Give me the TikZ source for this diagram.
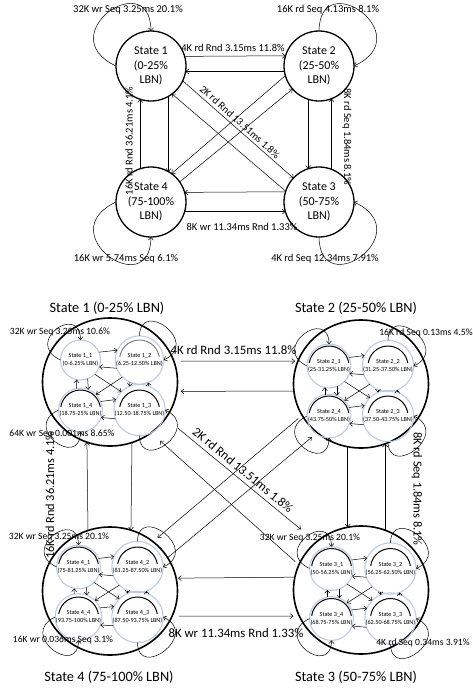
\documentclass[tikz,border=0pt]{standalone}
\usepackage{fontspec}
\setmainfont{Carlito}
\usetikzlibrary{arrows.meta,shapes.geometric}
\definecolor{smallblue}{RGB}{188,203,226}
\newcommand{\fs}[2]{\fontsize{#1}{#2}\selectfont}
\newcommand{\toparc}[2]{%
 \begin{scope}
 \clip ([xshift=-23pt,yshift=3.5pt]#1.center) rectangle ([xshift=23pt,yshift=24pt]#1.center);
 \draw[#2, line width=1pt] (#1.center) circle[radius=20pt];
 \end{scope}}
\newcommand{\subgrp}[7]{%
 \node[sm] (s#1a) at ({#2-29.5},{#3-25}) {State #1\_1\\(#4)};
 \node[sm] (s#1b) at ({#2+29.5},{#3-25}) {State #1\_2\\(#5)};
 \node[sm] (s#1c) at ({#2+29.5},{#3+25}) {State #1\_3\\(#6)};
 \node[sm] (s#1d) at ({#2-29.5},{#3+25}) {State #1\_4\\(#7)};
 \draw[arr] (s#1a.23.6) -- (s#1b.156.4);
 \draw[arr] (s#1b.200.5) -- (s#1a.-20.5);
 \draw[arr] (s#1d.23.6) -- (s#1c.156.4);
 \draw[arr] (s#1c.200.5) -- (s#1d.-20.5);
 \draw[arr] (s#1d.101.5) -- (s#1a.-101.5);
 \draw[arr] (s#1a.-69.5) -- (s#1d.69.5);
 \draw[arr] (s#1b.-113.6) -- (s#1c.113.6);
 \draw[arr] (s#1c.69.5) -- (s#1b.-69.5);
 \draw[arr] (s#1a.-45) -- (s#1c.135);
 \draw[arr] (s#1b.-135) -- (s#1d.45);
 \draw[arr] (s#1a.180) .. controls +(-37.7,-17.7) and +(-0.6,-37.7) .. (s#1a.90);
 \draw[arr] (s#1b.90) .. controls +(0.6,-37.7) and +(37.7,-17.7) .. (s#1b.0);
 \draw[arr] (s#1d.180) .. controls +(-37.7,17.7) and +(-0.6,37.7) .. (s#1d.270);
 \draw[arr] (s#1c.270) .. controls +(0.6,37.7) and +(37.7,17.7) .. (s#1c.0);
}
\begin{document}
\begin{tikzpicture}[x=1pt,y=-1pt,
 arr/.style={-{Straight Barb[length=2.8pt,width=5pt]}, line width=0.5pt},
 st/.style={circle, draw, line width=1.3pt, minimum size=70pt, inner sep=0pt, outer sep=0pt, align=center, font=\fs{12}{14.5}},
 big/.style={ellipse, draw, line width=1.6pt, minimum width=135pt, minimum height=128pt, inner sep=0pt, outer sep=0pt},
 sm/.style={circle, draw=smallblue, line width=1.1pt, minimum size=40pt, inner sep=0pt, outer sep=0pt, align=center, font=\fs{6.2}{8}},
 lbl/.style={font=\fs{10.5}{12}, inner sep=0pt},
 lblb/.style={font=\fs{12.8}{14}, inner sep=0pt},
 lblv/.style={font=\fs{12.3}{14}, inner sep=0pt},
 lps/.style={font=\fs{9.6}{11}, inner sep=0pt},
 ttl/.style={font=\fs{14.3}{16}, inner sep=0pt},
]
\useasboundingbox (0,0) rectangle (472,689);
% ---------- top diagram ----------
\node[st] (s1) at (151,66) {State 1\\(0-25\%\\LBN)};
\node[st] (s2) at (319,66) {State 2\\(25-50\%\\LBN)};
\node[st] (s4) at (151,202) {State 4\\(75-100\%\\LBN)};
\node[st] (s3) at (319,202) {State 3\\(50-75\%\\LBN)};
\draw[arr] (s1.16.6) -- (s2.163.4);
\draw[arr] (s2.189.9) -- (s1.-9.9);
\draw[arr] (s3.163.4) -- (s4.16.6);
\draw[arr] (s4.-16.6) -- (s3.196.6);
\draw[arr] (s4.108.3) -- (s1.-108.3);
\draw[arr] (s1.-60.9) -- (s4.60.9);
\draw[arr] (s2.-108.3) -- (s3.108.3);
\draw[arr] (s3.69.9) -- (s2.-69.9);
\draw[arr] (s1.-25) -- (s3.137);
\draw[arr] (s3.162) -- (s1.-53);
\draw[arr] (s2.196) -- (s4.54);
\draw[arr] (s4.35) -- (s2.221);
\draw[arr] (s1.180) .. controls +(-66,-31) and +(-1,-66) .. (s1.90);
\draw[arr] (s2.90) .. controls +(1,-66) and +(66,-31) .. (s2.0);
\draw[arr] (s4.180) .. controls +(-66,31) and +(-1,66) .. (s4.270);
\draw[arr] (s3.270) .. controls +(1,66) and +(66,31) .. (s3.0);
\node[lbl] (l1) at (128,10) {32K wr Seq 3.25ms 20.1\%};
\node[lbl] (l2) at (328,10) {16K rd Seq 4.13ms 8.1\%};
\node[lbl] (l4) at (126,259) {16K wr 5.74ms Seq 6.1\%};
\node[lbl] (l3) at (325,259) {4K rd Seq 12.34ms 7.91\%};
\node[lbl] (l12) at (233,48) {4K rd Rnd 3.15ms 11.8\%};
\node[lbl] (l43) at (242,227) {8K wr 11.34ms Rnd 1.33\%};
\node[lbl, rotate=90] (l14) at (129,141) {16K rd Rnd 36.21ms 4.1\%};
\node[lbl, rotate=-90] (l23) at (347,137) {8K rd Seq 1.84ms 8.1\%};
\node[lbl, rotate=-41.9] (l13) at (240,122) {2K rd Rnd 13.51ms 1.8\%};
% ---------- bottom diagram ----------
\node[big] (B1) at (110,382) {};
\node[big] (B2) at (361,384) {};
\node[big] (B3) at (361,590) {};
\node[big] (B4) at (110,591) {};
\node[ttl] (T1) at (107,308) {State 1 (0-25\% LBN)};
\node[ttl] (T2) at (356,308) {State 2 (25-50\% LBN)};
\node[ttl] (T4) at (109,677) {State 4 (75-100\% LBN)};
\node[ttl] (T3) at (356,677) {State 3 (50-75\% LBN)};
\subgrp{1}{110}{385}{0-6.25\% LBN}{6.25-12.50\% LBN}{12.50-18.75\% LBN}{18.75-25\% LBN}
\subgrp{2}{358.5}{391}{25-31.25\% LBN}{31.25-37.50\% LBN}{37.50-43.75\% LBN}{43.75-50\% LBN}
\subgrp{3}{361}{593.5}{50-56.25\% LBN}{56.25-62.50\% LBN}{62.50-68.75\% LBN}{68.75-75\% LBN}
\subgrp{4}{108}{592}{75-81.25\% LBN}{81.25-87.50\% LBN}{87.50-93.75\% LBN}{93.75-100\% LBN}
\toparc{s1b}{gray}
\toparc{s1c}{black}
\toparc{s1d}{black}
\toparc{s2a}{black}
\toparc{s2b}{black}
\toparc{s2c}{black}
\toparc{s2d}{black}
\toparc{s3a}{black}
\toparc{s3b}{black}
\toparc{s3c}{black}
\toparc{s3d}{black}
\toparc{s4a}{black}
\toparc{s4b}{black}
\toparc{s4c}{black}
\toparc{s4d}{black}
\draw[arr, shorten <=7pt, shorten >=3pt] (B1.18) -- (B2.160);
\draw[arr, shorten >=4pt] (B2.186.8) -- (B1.-8.6);
\draw[arr, shorten >=2pt] (B3.169.8) -- (B4.11.2);
\draw[arr, shorten <=7pt, shorten >=6pt] (B4.-22.9) -- (B3.203.6);
\draw[arr] (B4.110.7) -- (B1.-111.2);
\draw[arr] (B1.-70.6) -- (B4.71.2);
\draw[arr] (B2.-102.6) -- (B3.102.4);
\draw[arr] (B3.68.5) -- (B2.-68.2);
\draw[arr, shorten <=16pt, shorten >=20pt] (B1.-33.5) -- (B3.133);
\draw[arr, shorten <=5pt, shorten >=12pt] (B3.158.3) -- (B1.-51.3);
\draw[arr, shorten <=5pt, shorten >=6pt] (B2.208) -- (B4.49);
\draw[arr, shorten >=7pt] (B4.30.8) -- (B2.228.4);
\node[lblb] (m12) at (233.5,350) {4K rd Rnd 3.15ms 11.8\%};
\node[lblb, rotate=-39.5] (m13) at (243,470) {2K rd Rnd 13.51ms 1.8\%};
\node[lblv, rotate=90] (m14) at (50,495) {16K rd Rnd 36.21ms 4.1\%};
\node[lblv, rotate=-90] (m23) at (417,489) {8K rd Seq 1.84ms 8.1\%};
\node[lblb] (m43) at (236,633) {8K wr 11.34ms Rnd 1.33\%};
\node[lps] (p11) at (60,332) {32K wr Seq 3.25ms 10.6\%};
\node[lps] (p14) at (62,434) {64K wr Seq 0.001ms 8.65\%};
\node[lps] (p22) at (426,333) {16K rd Seq 0.13ms 4.5\%};
\node[lps] (p31) at (310,538) {32K wr Seq 3.25ms 20.1\%};
\node[lps] (p33) at (423,643) {4K rd Seq 0.34ms 3.91\%};
\node[lps] (p41) at (59,537) {32K wr Seq 3.25ms 20.1\%};
\node[lps] (p44) at (63,640) {16K wr 0.036ms Seq 3.1\%};
\end{tikzpicture}
\end{document}
